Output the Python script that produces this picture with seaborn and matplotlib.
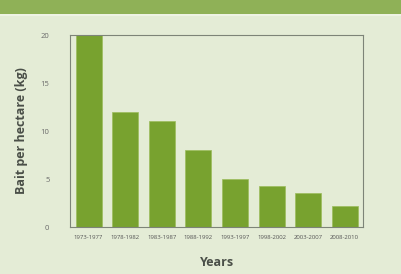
import numpy as np
import pandas as pd
import seaborn as sns
import matplotlib.pyplot as plt
from matplotlib.patches import Rectangle

# 数据
periods = ["1973-1977", "1978-1982", "1983-1987", "1988-1992",
           "1993-1997", "1998-2002", "2003-2007", "2008-2010"]
bait_kg = [20, 12, 11, 8, 5, 4.3, 3.5, 2.2]
y_ticks = [0, 5, 10, 15, 20]

df = pd.DataFrame({"period": periods, "bait": bait_kg})

sns.set_style("white")
plt.rcParams['font.family'] = ['Open Sans', 'DejaVu Sans']

bg = "#e4ecd6"
bar_color = "#78a22f"
grey = "#7d8478"

fig = plt.figure(figsize=(4.01, 2.74), dpi=100, facecolor=bg)
# 顶部绿色条
fig.patches.append(Rectangle((0, 1 - 14 / 274), 1, 14 / 274, transform=fig.transFigure,
                             facecolor="#8fb157", edgecolor="none", zorder=0))
fig.patches.append(Rectangle((0, 1 - 16 / 274), 1, 2 / 274, transform=fig.transFigure,
                             facecolor="#eef3e4", edgecolor="none", zorder=0))

ax = fig.add_axes([0.1753, 0.1715, 0.730, 0.7007])
ax.set_facecolor(bg)

sns.barplot(data=df, x="period", y="bait", color=bar_color, saturation=1,
            width=0.71, edgecolor="#9cbc5c", linewidth=0.5, ax=ax)

ax.set_ylim(0, 20)
ax.set_xlim(-0.5, len(periods) - 0.5)
ax.set_yticks(y_ticks)
ax.set_yticklabels([str(t) for t in y_ticks], fontsize=5.5, color="#6a6a6a")

# x 轴刻度放在类别之间
ax.set_xticks(np.arange(len(periods)))
ax.set_xticklabels(periods, fontsize=4.3, color="#555555")
ax.set_xticks(np.arange(-0.5, len(periods)), minor=True)
ax.tick_params(axis="x", which="major", length=0, pad=6)
ax.tick_params(axis="x", which="minor", length=5, width=0.8, color=grey, direction="out")
ax.tick_params(axis="y", length=7, width=0.8, color=grey, direction="out", pad=8)

for side in ["left", "right", "top", "bottom"]:
    ax.spines[side].set_visible(True)
    ax.spines[side].set_color(grey)
    ax.spines[side].set_linewidth(0.8)

ax.set_ylabel("Bait per hectare (kg)", fontsize=9, fontweight="bold", color="#4a4f48", labelpad=9)
ax.set_xlabel("Years", fontsize=9, fontweight="bold", color="#4a4f48", labelpad=11)

plt.savefig("out.png", dpi=100, facecolor=bg)
